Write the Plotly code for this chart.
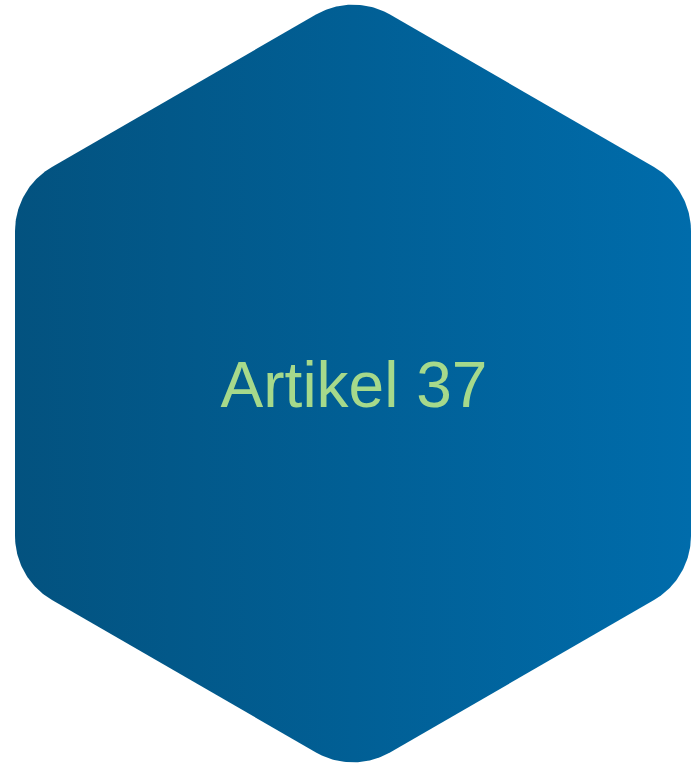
import numpy as np
import plotly.graph_objects as go

# Content
label_text = ["Artikel 37"]
gradient_colors = ["#03527F", "#015F95", "#006CAB"]
label_color = "#A6D98B"

# Geometry parameters (pixel space)
W, H = 692, 768
cx, cy = 353.0, 383.5
R = 676 / np.sqrt(3)
corner_r = 74.0
text_offset_y = 7

def rounded_hexagon(cx, cy, R, r, n_arc=40):
    angles = np.deg2rad([90 - 60 * i for i in range(6)])
    verts = [np.array([cx + R * np.cos(a), cy - R * np.sin(a)]) for a in angles]
    center = np.array([cx, cy])
    xs, ys = [], []
    for i in range(6):
        v = verts[i]
        prev = verts[i - 1]
        nxt = verts[(i + 1) % 6]
        d = r / np.tan(np.deg2rad(60))
        u1 = (prev - v) / np.linalg.norm(prev - v)
        u2 = (nxt - v) / np.linalg.norm(nxt - v)
        p1 = v + u1 * d
        p2 = v + u2 * d
        bis = (center - v) / np.linalg.norm(center - v)
        c = v + bis * (r / np.sin(np.deg2rad(60)))
        a1 = np.arctan2(p1[1] - c[1], p1[0] - c[0])
        a2 = np.arctan2(p2[1] - c[1], p2[0] - c[0])
        da = (a2 - a1 + np.pi) % (2 * np.pi) - np.pi
        ts = np.linspace(0, 1, n_arc)
        for t in ts:
            a = a1 + da * t
            xs.append(c[0] + r * np.cos(a))
            ys.append(c[1] + r * np.sin(a))
    xs.append(xs[0])
    ys.append(ys[0])
    return xs, ys

hx, hy = rounded_hexagon(cx, cy, R, corner_r)

fig = go.Figure()
fig.add_trace(go.Scatter(
    x=hx, y=hy, mode="lines", fill="toself",
    line=dict(width=0, color="rgba(0,0,0,0)"),
    fillgradient=dict(
        type="horizontal",
        colorscale=[[0, gradient_colors[0]], [0.5, gradient_colors[1]], [1, gradient_colors[2]]],
        start=15, stop=691,
    ),
    hoverinfo="skip", showlegend=False,
))
fig.add_trace(go.Scatter(
    x=[cx + 1], y=[cy + text_offset_y], mode="text", text=label_text,
    textfont=dict(family="Liberation Sans, Arial, sans-serif", size=64, color=label_color),
    textposition="middle center", hoverinfo="skip", showlegend=False,
))

fig.update_layout(
    width=W, height=H,
    margin=dict(l=0, r=0, t=0, b=0),
    paper_bgcolor="white", plot_bgcolor="white",
    xaxis=dict(range=[0, W], visible=False, fixedrange=True),
    yaxis=dict(range=[H, 0], visible=False, fixedrange=True),
)
fig.write_html(
    "out.html",
    config={"displayModeBar": False},
    post_script="document.body.style.margin='0';document.body.style.padding='0';",
)
